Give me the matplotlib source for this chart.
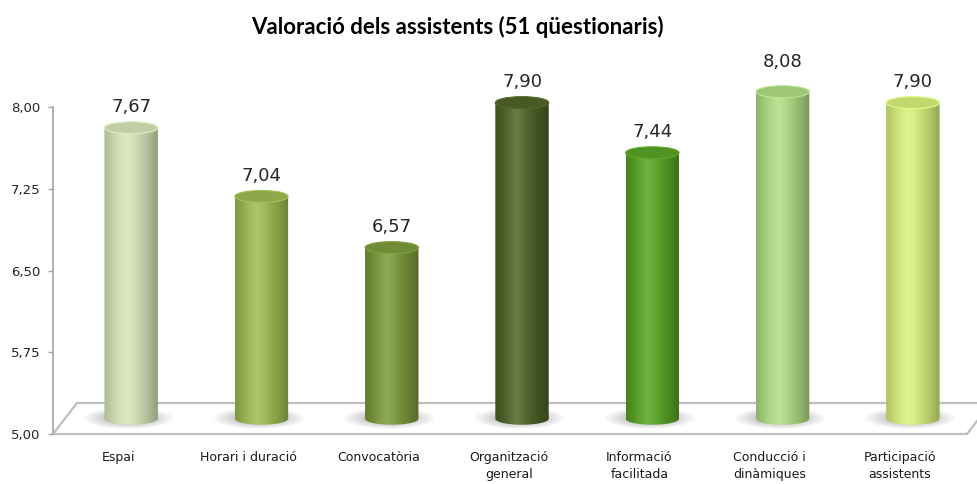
import numpy as np
import matplotlib.pyplot as plt
from matplotlib.path import Path
from matplotlib.patches import PathPatch, Polygon, Ellipse
from matplotlib.colors import to_rgb

# Data
categories = ['Espai', 'Horari i duració', 'Convocatòria', 'Organització\ngeneral',
              'Informació\nfacilitada', 'Conducció i\ndinàmiques', 'Participació\nassistents']
values = [7.67, 7.04, 6.57, 7.90, 7.44, 8.08, 7.90]
yticks = [5.00, 5.75, 6.50, 7.25, 8.00]
bar_colors = ['#d6e4b6', '#9dbb52', '#7b9a3b', '#4f6328', '#5aa326', '#b0dc84', '#d8f07c']

title = 'Valoració dels assistents (51 qüestionaris)'
ymin, ymax = 5.0, 8.0

fig = plt.figure(figsize=(9.77, 4.84), dpi=100)
ax = fig.add_axes([0, 0, 1, 1])
ax.set_facecolor('white')

# pixel-ish layout: front plane from x=-0.5 to 6.5, y 5..8
xl = (-0.5 - 53 / 130.29, 6.5 + 12 / 130.29)
yl = (5 - 50 / 109, 8 + 107 / 109)

# 3D depth offsets (full floor depth, bars sit halfway)
ddx, ddy = 24 / 130.29, 31 / 109
bdx, bdy = 0.10, 0.14
bw = 0.41      # cylinder width
eh = 0.11      # ellipse height

# floor
floor = Polygon([(-0.5, ymin), (6.515, ymin), (6.515 + ddx, ymin + ddy), (-0.5 + ddx, ymin + ddy)],
                closed=True, facecolor='white', edgecolor='#bfbfbf', lw=1.6, zorder=1)
ax.add_patch(floor)


def shade(base, n=120):
    t = np.linspace(0, 1, n)
    k = 1 - 0.32 * (np.abs(t - 0.42) / 0.58) ** 1.6
    hl = np.clip(1 - np.abs(t - 0.40) / 0.28, 0, 1) * 0.15
    c = np.array(to_rgb(base))
    rgb = c[None, :] * k[:, None]
    rgb = rgb + (1 - rgb) * hl[:, None]
    return np.clip(rgb, 0, 1)[None, :, :]


for i, (v, col) in enumerate(zip(values, bar_colors)):
    xc = i + bdx
    y0 = ymin + bdy
    y1 = min(v, ymax) + bdy
    x0, x1 = xc - bw / 2, xc + bw / 2

    # soft shadow on the floor
    for s in np.linspace(1.0, 1.7, 8):
        ax.add_patch(Ellipse((xc - 0.02, y0 + 0.005), bw * s, eh * s * 1.05,
                             facecolor='black', alpha=0.022, lw=0, zorder=2))

    th = np.linspace(np.pi, 2 * np.pi, 40)
    verts = [(x0, y1), (x0, y0)]
    verts += list(zip(xc + bw / 2 * np.cos(th), y0 + eh / 2 * np.sin(th)))
    verts += [(x1, y0), (x1, y1), (x0, y1)]
    codes = [Path.MOVETO] + [Path.LINETO] * (len(verts) - 2) + [Path.CLOSEPOLY]
    body = PathPatch(Path(verts, codes), transform=ax.transData,
                     facecolor='none', edgecolor='none', zorder=3)
    ax.add_patch(body)
    im = ax.imshow(shade(col), extent=(x0, x1, y0 - eh / 2, y1), aspect='auto',
                   interpolation='bilinear', zorder=3)
    im.set_clip_path(body)
    im.set_clip_box(None)

    top_c = np.array(to_rgb(col)) * 0.9
    ax.add_patch(Ellipse((xc, y1), bw, eh, facecolor=top_c,
                         edgecolor=np.clip(np.array(to_rgb(col)) * 1.05, 0, 1), lw=0.8, zorder=4))

    ax.text(xc, v + 0.33, f'{v:.2f}'.replace('.', ','), ha='center', va='center',
            fontsize=13, color='#262626', zorder=5)

# axes / ticks
for s in ['top', 'right']:
    ax.spines[s].set_visible(False)
ax.spines['bottom'].set_position(('data', ymin))
ax.spines['bottom'].set_visible(False)
ax.spines['left'].set_position(('data', -0.5))
ax.spines['left'].set_bounds(ymin, ymax)
ax.spines['left'].set_color('#a6a6a6')
ax.spines['left'].set_linewidth(1.2)

ax.set_yticks(yticks)
ax.set_yticklabels([f'{t:.2f}'.replace('.', ',') for t in yticks])
ax.tick_params(axis='y', length=3.6, width=1, color='#a6a6a6', pad=5.5,
               labelsize=9.5, labelcolor='#262626')
ax.set_xticks(range(len(categories)))
ax.set_xticklabels(categories, linespacing=1.45)
ax.tick_params(axis='x', length=0, pad=12, labelsize=9, labelcolor='#1a1a1a')

ax.set_xlim(*xl)
ax.set_ylim(*yl)

fig.text(457 / 977, 1 - 27 / 484, title, ha='center', va='center',
         fontsize=16, fontweight='bold', family='Lato', color='black')

fig.savefig('out.png', dpi=100, facecolor='white')
